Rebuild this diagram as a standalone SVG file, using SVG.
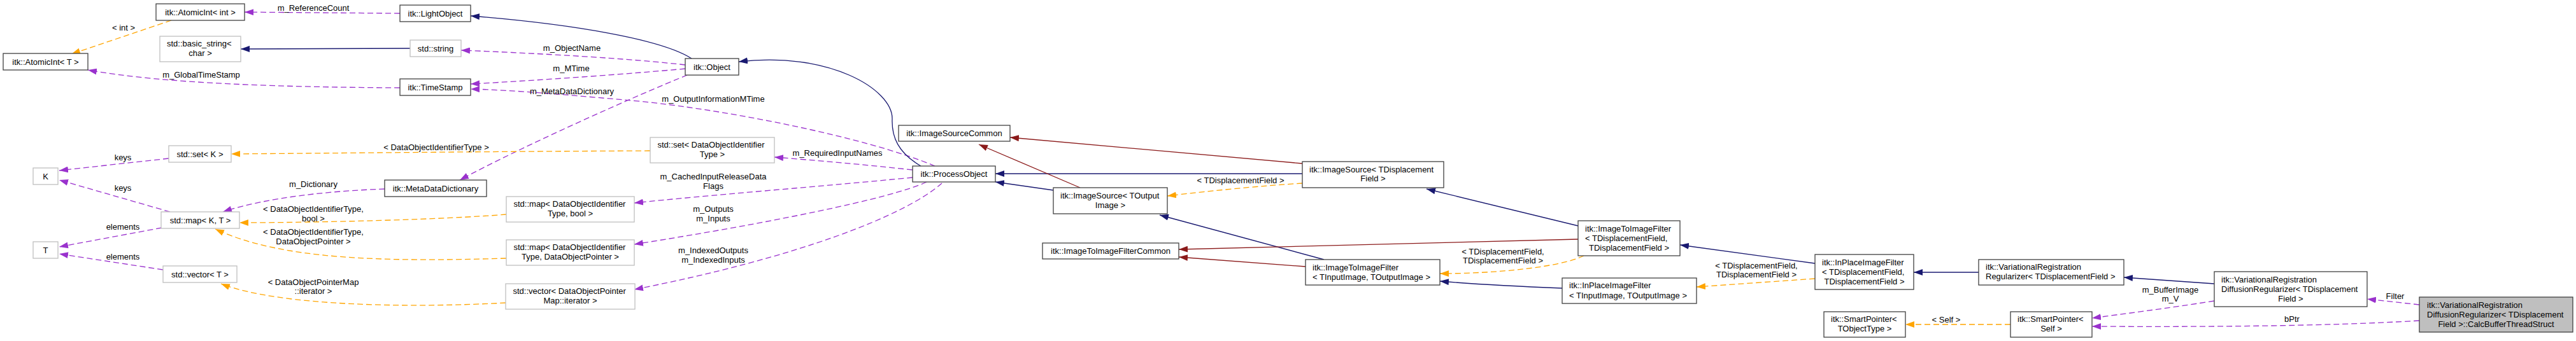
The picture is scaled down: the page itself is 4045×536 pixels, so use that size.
<svg xmlns="http://www.w3.org/2000/svg" width="4045" height="536" viewBox="0 0 4045 536">
<style>
text{font-family:"Liberation Sans",Arial,Helvetica,sans-serif;font-size:13px;fill:#000}
.c{text-anchor:middle}
.n rect{fill:#fff;stroke:#404040;stroke-width:1.3}
.u rect{fill:#fff;stroke:#bfbfbf;stroke-width:1.3}
.g rect{fill:#bfbfbf;stroke:#404040;stroke-width:1.3}
#edges path{fill:none;stroke-width:1.3}
.nav{stroke:#191970;marker-end:url(#aN)}
.red{stroke:#8b1a1a;marker-end:url(#aR)}
.pur{stroke:#9a32cd;stroke-dasharray:9,5;marker-end:url(#aP)}
.ora{stroke:#ffa500;stroke-dasharray:9,5;marker-end:url(#aO)}
</style>
<defs>
<marker id="aN" markerUnits="userSpaceOnUse" markerWidth="14" markerHeight="10" refX="14" refY="5" orient="auto"><path d="M0,0 L14,5 L0,10 z" fill="#191970"/></marker>
<marker id="aR" markerUnits="userSpaceOnUse" markerWidth="14" markerHeight="10" refX="14" refY="5" orient="auto"><path d="M0,0 L14,5 L0,10 z" fill="#8b1a1a"/></marker>
<marker id="aP" markerUnits="userSpaceOnUse" markerWidth="14" markerHeight="10" refX="14" refY="5" orient="auto"><path d="M0,0 L14,5 L0,10 z" fill="#9a32cd"/></marker>
<marker id="aO" markerUnits="userSpaceOnUse" markerWidth="14" markerHeight="10" refX="14" refY="5" orient="auto"><path d="M0,0 L14,5 L0,10 z" fill="#ffa500"/></marker>
</defs>
<rect width="4045" height="536" fill="#fff"/>
<g id="edges">
<path class="pur" d="M628,21 L384,19"/>
<text class="c" x="492" y="16.5">m_ReferenceCount</text>
<path class="pur" d="M1076,102 C990,92 850,84 724,79"/>
<text class="c" x="898" y="79.5">m_ObjectName</text>
<path class="pur" d="M1076,108 C990,116 850,126 739,132"/>
<text class="c" x="897" y="111.5">m_MTime</text>
<path class="pur" d="M1468,261 C1360,215 1120,168 980,157 C900,150 800,141 739,140"/>
<text class="c" x="1120" y="159.5">m_OutputInformationMTime</text>
<path class="pur" d="M1079,118 C1000,150 820,230 722,283"/>
<text class="c" x="898" y="147.5">m_MetaDataDictionary</text>
<path class="pur" d="M1433,267 C1350,258 1280,252 1216,247"/>
<text class="c" x="1315" y="244.5">m_RequiredInputNames</text>
<path class="pur" d="M1433,279 C1300,292 1100,308 996,319"/>
<text class="c" x="1120" y="281.5">m_CachedInputReleaseData</text>
<text class="c" x="1120" y="296.5">Flags</text>
<path class="pur" d="M1455,286 C1400,312 1200,352 996,384"/>
<text class="c" x="1120" y="332.5">m_Outputs</text>
<text class="c" x="1120" y="347.5">m_Inputs</text>
<path class="pur" d="M1479,288 C1420,340 1250,405 996,455"/>
<text class="c" x="1120" y="397.5">m_IndexedOutputs</text>
<text class="c" x="1120" y="412.5">m_IndexedInputs</text>
<path class="pur" d="M265,249 L93,268"/>
<text class="c" x="193" y="251.5">keys</text>
<path class="pur" d="M267,333 L93,283"/>
<text class="c" x="193" y="299.5">keys</text>
<path class="pur" d="M604,297 C520,300 420,310 350,333"/>
<text class="c" x="492" y="293.5">m_Dictionary</text>
<path class="pur" d="M254,358 L93,388"/>
<text class="c" x="193" y="360.5">elements</text>
<path class="pur" d="M256,424 L93,399"/>
<text class="c" x="193" y="407.5">elements</text>
<path class="pur" d="M628,138 C450,137 260,132 138,110"/>
<text class="c" x="316" y="121.5">m_GlobalTimeStamp</text>
<path class="pur" d="M3477,473 C3400,485 3330,494 3285,500"/>
<text class="c" x="3408" y="459.5">m_BufferImage</text>
<text class="c" x="3408" y="473.5">m_V</text>
<path class="pur" d="M3799,504 C3650,513 3450,514 3285,513"/>
<text class="c" x="3599" y="505.5">bPtr</text>
<path class="pur" d="M3799,479 L3717,470"/>
<text class="c" x="3761" y="469.5">Filter</text>
<path class="ora" d="M269,32 L112,85"/>
<text class="c" x="194" y="47.5">&lt; int &gt;</text>
<path class="ora" d="M1021,237 C800,238 600,240 363,242"/>
<text class="c" x="685" y="235.5">&lt; DataObjectIdentifierType &gt;</text>
<path class="ora" d="M795,337 C700,345 500,350 376,350"/>
<text class="c" x="492" y="332.5">&lt; DataObjectIdentifierType,</text>
<text class="c" x="492" y="347.5">bool &gt;</text>
<path class="ora" d="M795,406 C600,412 440,408 338,360"/>
<text class="c" x="492" y="368.5">&lt; DataObjectIdentifierType,</text>
<text class="c" x="492" y="383.5">DataObjectPointer &gt;</text>
<path class="ora" d="M794,476 C650,484 440,482 347,446"/>
<text class="c" x="492" y="447.5">&lt; DataObjectPointerMap</text>
<text class="c" x="492" y="461.5">::iterator &gt;</text>
<path class="ora" d="M2045,288 C1980,292 1900,300 1833,308"/>
<text class="c" x="1948" y="287.5">&lt; TDisplacementField &gt;</text>
<path class="ora" d="M2487,402 C2450,420 2350,430 2261,430"/>
<text class="c" x="2360" y="399.5">&lt; TDisplacementField,</text>
<text class="c" x="2360" y="413.5">TDisplacementField &gt;</text>
<path class="ora" d="M2850,438 L2664,451"/>
<text class="c" x="2758" y="421.5">&lt; TDisplacementField,</text>
<text class="c" x="2758" y="435.5">TDisplacementField &gt;</text>
<path class="ora" d="M3157,510 L2992,510"/>
<text class="c" x="3056" y="507">&lt; Self &gt;</text>
<path class="nav" d="M1086,92 C1040,62 900,38 739,25"/>
<path class="nav" d="M644,76 L378,77"/>
<path class="nav" d="M1446,261 C1410,240 1400,215 1401,187 C1402,140 1300,80 1160,97"/>
<path class="nav" d="M2045,273 L1563,273"/>
<path class="nav" d="M1654,299 L1563,286"/>
<path class="nav" d="M2079,408 L1821,338"/>
<path class="nav" d="M2478,355 L2240,297"/>
<path class="nav" d="M2453,453 C2380,450 2320,447 2261,442"/>
<path class="nav" d="M2850,414 L2638,385"/>
<path class="nav" d="M3107,428 L3005,428"/>
<path class="nav" d="M3477,446 L3335,436"/>
<path class="red" d="M1696,295 L1537,227"/>
<path class="red" d="M2045,257 L1586,216"/>
<path class="red" d="M2478,376 L1851,392"/>
<path class="red" d="M2050,419 L1851,404"/>
</g>
<g id="n_atomic_int" class="n"><rect x="245" y="6" width="139" height="26"/><text class="c" x="314.5" y="23.5">itk::AtomicInt&lt; int &gt;</text></g>
<g id="n_lightobject" class="n"><rect x="628" y="8" width="111" height="26"/><text class="c" x="683.5" y="25.5">itk::LightObject</text></g>
<g id="n_basic_string" class="u"><rect x="251" y="57" width="127" height="40"/><text x="262" y="73">std::basic_string&lt;</text><text class="c" x="314.5" y="88">char &gt;</text></g>
<g id="n_string" class="u"><rect x="644" y="63" width="80" height="26"/><text class="c" x="684" y="80.5">std::string</text></g>
<g id="n_atomic_T" class="n"><rect x="5" y="84" width="133" height="26"/><text class="c" x="71.5" y="101.5">itk::AtomicInt&lt; T &gt;</text></g>
<g id="n_object" class="n"><rect x="1076" y="92" width="84" height="26"/><text class="c" x="1118" y="109.5">itk::Object</text></g>
<g id="n_timestamp" class="n"><rect x="628" y="124" width="111" height="26"/><text class="c" x="683.5" y="141.5">itk::TimeStamp</text></g>
<g id="n_set_K" class="u"><rect x="265" y="229" width="98" height="26"/><text class="c" x="314" y="246.5">std::set&lt; K &gt;</text></g>
<g id="n_K" class="u"><rect x="52" y="264" width="39" height="26"/><text class="c" x="71.5" y="281.5">K</text></g>
<g id="n_mdd" class="n"><rect x="604" y="283" width="160" height="26"/><text class="c" x="684" y="300.5">itk::MetaDataDictionary</text></g>
<g id="n_map_KT" class="u"><rect x="253" y="333" width="123" height="26"/><text class="c" x="314.5" y="350.5">std::map&lt; K, T &gt;</text></g>
<g id="n_T" class="u"><rect x="52" y="380" width="39" height="26"/><text class="c" x="71.5" y="397.5">T</text></g>
<g id="n_vector_T" class="u"><rect x="256" y="418" width="116" height="26"/><text class="c" x="314" y="435.5">std::vector&lt; T &gt;</text></g>
<g id="n_set_doit" class="u"><rect x="1021" y="216" width="195" height="40"/><text x="1032.5" y="232">std::set&lt; DataObjectIdentifier</text><text class="c" x="1118.5" y="247">Type &gt;</text></g>
<g id="n_map_bool" class="u"><rect x="795" y="309" width="201" height="40"/><text x="806.5" y="325">std::map&lt; DataObjectIdentifier</text><text class="c" x="895.5" y="340">Type, bool &gt;</text></g>
<g id="n_map_ptr" class="u"><rect x="795" y="377" width="201" height="40"/><text x="806.5" y="393">std::map&lt; DataObjectIdentifier</text><text class="c" x="895.5" y="408">Type, DataObjectPointer &gt;</text></g>
<g id="n_vector_iter" class="u"><rect x="794" y="446" width="203" height="40"/><text x="805.5" y="462">std::vector&lt; DataObjectPointer</text><text class="c" x="895.5" y="477">Map::iterator &gt;</text></g>
<g id="n_processobject" class="n"><rect x="1433" y="261" width="130" height="25"/><text class="c" x="1498" y="277.5">itk::ProcessObject</text></g>
<g id="n_isc" class="n"><rect x="1411" y="197" width="175" height="25"/><text class="c" x="1498.5" y="214">itk::ImageSourceCommon</text></g>
<g id="n_is_out" class="n"><rect x="1654" y="295" width="179" height="41"/><text x="1665" y="312">itk::ImageSource&lt; TOutput</text><text class="c" x="1743.5" y="327">Image &gt;</text></g>
<g id="n_itifc" class="n"><rect x="1637" y="382" width="214" height="25"/><text class="c" x="1744" y="398.5">itk::ImageToImageFilterCommon</text></g>
<g id="n_is_df" class="n"><rect x="2045" y="254" width="222" height="41"/><text x="2056" y="270.5">itk::ImageSource&lt; TDisplacement</text><text class="c" x="2156" y="285">Field &gt;</text></g>
<g id="n_itif_io" class="n"><rect x="2050" y="408" width="211" height="40"/><text x="2061" y="424.5">itk::ImageToImageFilter</text><text x="2061" y="439.5">&lt; TInputImage, TOutputImage &gt;</text></g>
<g id="n_itif_df" class="n"><rect x="2478" y="347" width="160" height="55"/><text x="2489" y="364">itk::ImageToImageFilter</text><text x="2489" y="379">&lt; TDisplacementField,</text><text class="c" x="2558" y="394">TDisplacementField &gt;</text></g>
<g id="n_ipif_io" class="n"><rect x="2453" y="437" width="211" height="40"/><text x="2464" y="453">itk::InPlaceImageFilter</text><text x="2464" y="468.5">&lt; TInputImage, TOutputImage &gt;</text></g>
<g id="n_ipif_df" class="n"><rect x="2850" y="400" width="155" height="55"/><text x="2861" y="417">itk::InPlaceImageFilter</text><text x="2861" y="432">&lt; TDisplacementField,</text><text class="c" x="2927.5" y="447">TDisplacementField &gt;</text></g>
<g id="n_vrr" class="n"><rect x="3107" y="408" width="228" height="40"/><text x="3118" y="424">itk::VariationalRegistration</text><text x="3118" y="439">Regularizer&lt; TDisplacementField &gt;</text></g>
<g id="n_sp_T" class="n"><rect x="2864" y="490" width="128" height="40"/><text x="2875" y="506">itk::SmartPointer&lt;</text><text class="c" x="2928" y="521">TObjectType &gt;</text></g>
<g id="n_sp_self" class="n"><rect x="3157" y="490" width="128" height="40"/><text x="3168" y="506">itk::SmartPointer&lt;</text><text class="c" x="3221" y="521">Self &gt;</text></g>
<g id="n_vrdr" class="n"><rect x="3477" y="427" width="240" height="55"/><text x="3488" y="444">itk::VariationalRegistration</text><text x="3488" y="459">DiffusionRegularizer&lt; TDisplacement</text><text class="c" x="3597" y="474">Field &gt;</text></g>
<g id="n_calc" class="g"><rect x="3799" y="467" width="241" height="55"/><text x="3811" y="484">itk::VariationalRegistration</text><text x="3811" y="499">DiffusionRegularizer&lt; TDisplacement</text><text class="c" x="3919.5" y="514">Field &gt;::CalcBufferThreadStruct</text></g>
</svg>
